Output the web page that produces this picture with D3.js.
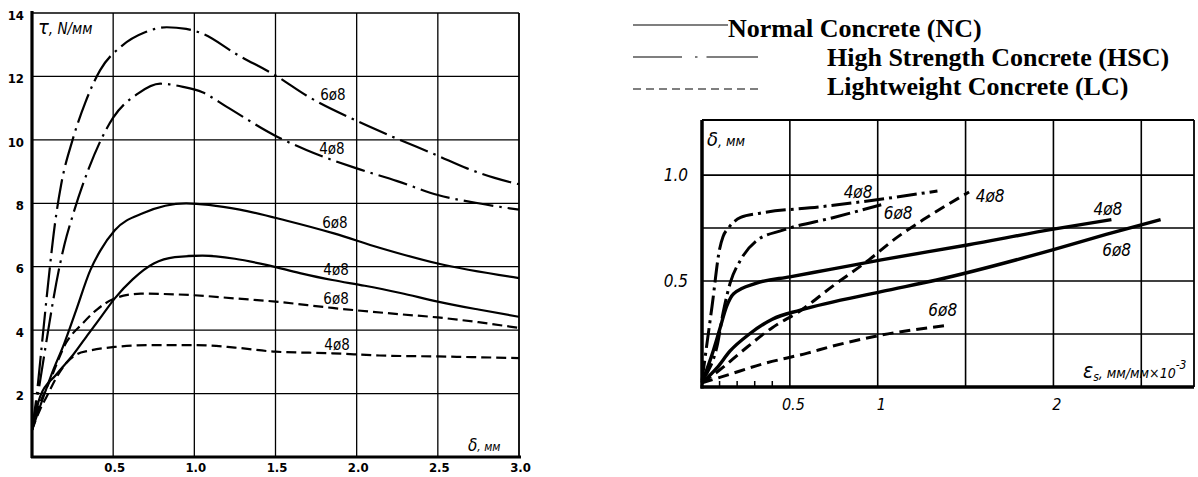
<!DOCTYPE html>
<html><head><meta charset="utf-8">
<script src="https://cdn.jsdelivr.net/npm/d3@7"></script>
<style>body{margin:0;background:#fff} svg{display:block}</style>
</head><body>
<svg id="c" width="1198" height="477"></svg>
<script>
// ---------- DATA ----------
// Left chart: slip delta (mm) vs bond stress tau (N/mm)
const leftXTicks = [0.5, 1.0, 1.5, 2.0, 2.5, 3.0];
const leftYTicks = [2, 4, 6, 8, 10, 12, 14];
const leftHSC6 = [[0,0.85],[0.03,2.0],[0.06,3.5],[0.1,5.5],[0.14,7.3],[0.18,8.6],[0.25,10.0],[0.33,11.2],[0.42,12.2],[0.55,12.95],[0.7,13.4],[0.83,13.55],[0.95,13.5],[1.05,13.35],[1.26,12.7],[1.51,12.0],[1.69,11.4],[2.0,10.6],[2.22,10.1],[2.5,9.5],[2.68,9.1],[2.85,8.8],[3.0,8.6]];
const leftHSC4 = [[0,0.85],[0.05,2.4],[0.1,4.0],[0.15,5.5],[0.2,6.7],[0.25,7.6],[0.35,9.1],[0.5,10.7],[0.65,11.45],[0.79,11.77],[0.93,11.67],[1.05,11.5],[1.2,11.04],[1.51,10.1],[1.69,9.68],[2.0,9.1],[2.25,8.7],[2.5,8.26],[2.75,8.0],[3.0,7.8]];
const leftNC6 = [[0,0.85],[0.05,1.6],[0.12,2.6],[0.2,3.6],[0.27,4.6],[0.36,5.9],[0.42,6.5],[0.51,7.15],[0.69,7.7],[0.95,8.0],[1.28,7.8],[1.57,7.45],[1.86,7.05],[2.14,6.6],[2.5,6.1],[3.0,5.64]];
const leftNC4 = [[0,0.85],[0.05,1.9],[0.15,2.6],[0.25,3.2],[0.35,3.9],[0.43,4.45],[0.51,5.0],[0.62,5.6],[0.75,6.1],[0.88,6.3],[1.05,6.35],[1.25,6.25],[1.45,6.05],[1.65,5.8],[1.85,5.58],[2.05,5.4],[2.27,5.17],[2.5,4.9],[2.75,4.65],[3.0,4.42]];
const leftLC6 = [[0,0.85],[0.05,1.7],[0.11,2.4],[0.21,3.6],[0.31,4.2],[0.4,4.65],[0.51,5.0],[0.6,5.12],[0.67,5.15],[1.0,5.1],[1.25,5.0],[1.5,4.9],[1.85,4.7],[2.27,4.5],[2.5,4.4],[2.75,4.25],[3.0,4.07]];
const leftLC4 = [[0,0.85],[0.05,1.5],[0.09,1.9],[0.15,2.5],[0.21,2.96],[0.28,3.25],[0.35,3.35],[0.51,3.47],[0.73,3.53],[1.0,3.53],[1.25,3.45],[1.5,3.32],[1.85,3.27],[2.14,3.2],[2.5,3.17],[3.0,3.12]];
const leftLabels = [["6ø8",1.854,11.42],["4ø8",1.848,9.71],["6ø8",1.866,7.38],["4ø8",1.873,5.90],["6ø8",1.873,4.98],["4ø8",1.879,3.53]];

// Right chart: steel strain (mm/mm x10^-3) vs slip delta (mm)
const rightXGrid = [0.5, 1, 1.5, 2, 2.5];
const rightXTicks = [0.5, 1, 2];
const rightMinor = [0.1, 0.2, 0.3, 0.4];
const rightYGrid = [0.25, 0.5, 0.75, 1.0];
const rightYTicks = [0.5, 1.0];
const rightHSC4 = [[0,0.03],[0.034,0.24],[0.057,0.38],[0.1,0.65],[0.12,0.71],[0.15,0.75],[0.22,0.8],[0.33,0.82],[0.67,0.85],[1.05,0.89],[1.34,0.925]];
const rightHSC6 = [[0,0.03],[0.05,0.1],[0.085,0.19],[0.12,0.35],[0.16,0.49],[0.22,0.6],[0.31,0.69],[0.46,0.74],[0.75,0.8],[1.02,0.86]];
const rightNC4 = [[0,0.02],[0.06,0.16],[0.1,0.27],[0.14,0.38],[0.18,0.44],[0.31,0.49],[0.5,0.52],[0.73,0.555],[1.02,0.6],[1.51,0.67],[2.0,0.745],[2.33,0.79]];
const rightNC6 = [[0,0.02],[0.085,0.09],[0.16,0.17],[0.27,0.25],[0.4,0.32],[0.56,0.363],[1.02,0.45],[1.335,0.505],[1.99,0.646],[2.3,0.72],[2.61,0.79]];
const rightLC4 = [[0,0.02],[0.1,0.08],[0.23,0.17],[0.4,0.28],[0.56,0.36],[0.75,0.48],[0.95,0.6],[1.1,0.7],[1.26,0.79],[1.52,0.92]];
const rightLC6 = [[0,0.02],[0.12,0.05],[0.35,0.11],[0.6,0.16],[0.73,0.19],[1.02,0.245],[1.39,0.29]];
const rightLabels = [["4ø8",0.888,0.92],["6ø8",1.116,0.82],["4ø8",1.64,0.90],["4ø8",2.31,0.84],["6ø8",2.36,0.646],["6ø8",1.37,0.363]];

const legendNames = ["Normal Concrete (NC)", "High Strength Concrete (HSC)", "Lightweight Concrete (LC)"];

// ---------- DRAW ----------
const svg = d3.select("#c");
const hand = "'DejaVu Sans Condensed','Liberation Sans Narrow',sans-serif";

// ---- Left chart ----
const xL = d3.scaleLinear().domain([0,3]).range([32,519]);
const yL = d3.scaleLinear().domain([0,14]).range([457,13]);
const gL = svg.append("g");

gL.append("g").selectAll("line").data(leftXTicks).join("line")
  .attr("x1", d=>xL(d)).attr("x2", d=>xL(d)).attr("y1", yL(0)).attr("y2", yL(14))
  .attr("stroke","#000").attr("stroke-width", d=> d===3 ? 1.8 : 1.3);
gL.append("g").selectAll("line").data(leftYTicks).join("line")
  .attr("x1", xL(0)).attr("x2", xL(3)).attr("y1", d=>yL(d)).attr("y2", d=>yL(d))
  .attr("stroke","#000").attr("stroke-width", 1.3);
gL.append("line").attr("x1",xL(0)).attr("x2",xL(0)).attr("y1",yL(0)+1).attr("y2",yL(14)-2).attr("stroke","#000").attr("stroke-width",3.2);
gL.append("line").attr("x1",xL(0)-1).attr("x2",xL(3)+2).attr("y1",yL(0)).attr("y2",yL(0)).attr("stroke","#000").attr("stroke-width",3.2);

const axLy = d3.axisLeft(yL).tickValues(leftYTicks).tickSize(0).tickPadding(8).tickFormat(d3.format("d"));
gL.append("g").attr("transform",`translate(${xL(0)},2)`).call(axLy)
  .call(g=>g.select(".domain").remove())
  .selectAll("text").attr("font-family",hand).attr("font-weight","bold").attr("font-size",13).attr("fill","#000");
const axLx = d3.axisBottom(xL).tickValues(leftXTicks).tickSize(0).tickPadding(6).tickFormat(d3.format(".1f"));
gL.append("g").attr("transform",`translate(1,${yL(0)})`).call(axLx)
  .call(g=>g.select(".domain").remove())
  .selectAll("text").attr("font-family",hand).attr("font-weight","bold").attr("font-size",13).attr("fill","#000");

const lineL = d3.line().x(d=>xL(d[0])).y(d=>yL(d[1])).curve(d3.curveMonotoneX);
const leftSeries = [
  [leftHSC6,"HSC"],[leftHSC4,"HSC"],[leftNC6,"NC"],[leftNC4,"NC"],[leftLC6,"LC"],[leftLC4,"LC"]
];
const leftDash = {NC:null, HSC:"30,6,2.5,6", LC:"10,5"};
gL.append("g").selectAll("path").data(leftSeries).join("path")
  .attr("d", d=>lineL(d[0])).attr("fill","none").attr("stroke","#000")
  .attr("stroke-width", 2.2).attr("stroke-dasharray", d=>leftDash[d[1]]);

gL.append("g").selectAll("text").data(leftLabels).join("text")
  .attr("x", d=>xL(d[1])).attr("y", d=>yL(d[2])).attr("dy","0.35em")
  .attr("text-anchor","middle").attr("font-family",hand).attr("font-size",15).attr("fill","#000")
  .text(d=>d[0]);

const tL = gL.append("text").attr("x",38).attr("y",34).attr("font-family",hand).attr("font-style","italic").attr("fill","#000");
tL.append("tspan").attr("font-size",20).text("τ");
tL.append("tspan").attr("font-size",15).text(", N/мм");
const dL = gL.append("text").attr("x",468).attr("y",451).attr("font-family",hand).attr("font-style","italic").attr("fill","#000");
dL.append("tspan").attr("font-size",17).text("δ");
dL.append("tspan").attr("font-size",12).text(", мм");

// ---- Right chart ----
const xR = d3.scaleLinear().domain([0,2.8]).range([702,1194]);
const yR = d3.scaleLinear().domain([0,1.26]).range([387,120]);
const gR = svg.append("g");
gR.append("g").selectAll("line").data(rightXGrid).join("line")
  .attr("x1", d=>xR(d)).attr("x2", d=>xR(d)).attr("y1", yR(0)).attr("y2", yR(1.26))
  .attr("stroke","#000").attr("stroke-width",1.6);
gR.append("g").selectAll("line").data(rightYGrid).join("line")
  .attr("x1", xR(0)).attr("x2", xR(2.8)).attr("y1", d=>yR(d)).attr("y2", d=>yR(d))
  .attr("stroke","#000").attr("stroke-width",1.6);
gR.append("line").attr("x1",xR(0)).attr("x2",xR(2.8)).attr("y1",yR(1.26)).attr("y2",yR(1.26)).attr("stroke","#000").attr("stroke-width",1.8);
gR.append("line").attr("x1",xR(2.8)).attr("x2",xR(2.8)).attr("y1",yR(0)).attr("y2",yR(1.26)).attr("stroke","#000").attr("stroke-width",1.8);
gR.append("line").attr("x1",xR(0)).attr("x2",xR(0)).attr("y1",yR(0)+1.5).attr("y2",yR(1.26)).attr("stroke","#000").attr("stroke-width",3.5);
gR.append("line").attr("x1",xR(0)-1.5).attr("x2",xR(2.8)).attr("y1",yR(0)).attr("y2",yR(0)).attr("stroke","#000").attr("stroke-width",3.5);
gR.append("g").selectAll("line").data(rightMinor).join("line")
  .attr("x1", d=>xR(d)).attr("x2", d=>xR(d)).attr("y1", yR(0)).attr("y2", yR(0)-6)
  .attr("stroke","#000").attr("stroke-width",1.5);

const axRy = d3.axisLeft(yR).tickValues(rightYTicks).tickSize(0).tickPadding(14).tickFormat(d3.format(".1f"));
gR.append("g").attr("transform",`translate(${xR(0)},0)`).call(axRy)
  .call(g=>g.select(".domain").remove())
  .selectAll("text").attr("font-family",hand).attr("font-style","italic").attr("font-size",17).attr("fill","#000");
const axRx = d3.axisBottom(xR).tickValues(rightXTicks).tickSize(0).tickPadding(12).tickFormat(d=> d===0.5 ? "0.5" : d3.format("d")(d));
gR.append("g").attr("transform",`translate(3,${yR(0)})`).call(axRx)
  .call(g=>g.select(".domain").remove())
  .selectAll("text").attr("font-family",hand).attr("font-style","italic").attr("font-size",16).attr("fill","#000");

const lineR = d3.line().x(d=>xR(d[0])).y(d=>yR(d[1])).curve(d3.curveMonotoneX);
const rightSeries = [
  [rightHSC4,"HSC"],[rightHSC6,"HSC"],[rightNC4,"NC"],[rightNC6,"NC"],[rightLC4,"LC"],[rightLC6,"LC"]
];
const rightDash = {NC:null, HSC:"20,5,3,5", LC:"11,6"};
gR.append("g").selectAll("path").data(rightSeries).join("path")
  .attr("d", d=>lineR(d[0])).attr("fill","none").attr("stroke","#000")
  .attr("stroke-width", d=> d[1]==="NC" ? 3.4 : 3).attr("stroke-dasharray", d=>rightDash[d[1]]);

gR.append("g").selectAll("text").data(rightLabels).join("text")
  .attr("x", d=>xR(d[1])).attr("y", d=>yR(d[2])).attr("dy","0.35em")
  .attr("text-anchor","middle").attr("font-family",hand).attr("font-style","italic").attr("font-size",17).attr("fill","#000")
  .text(d=>d[0]);

const tR = gR.append("text").attr("x",707).attr("y",146).attr("font-family",hand).attr("font-style","italic").attr("fill","#000");
tR.append("tspan").attr("font-size",20).text("δ");
tR.append("tspan").attr("font-size",14).text(", мм");
const eR = gR.append("text").attr("x",1083).attr("y",378).attr("font-family",hand).attr("font-style","italic").attr("fill","#000");
eR.append("tspan").attr("font-size",21).text("ε");
eR.append("tspan").attr("font-size",12).attr("dy",3).text("s");
eR.append("tspan").attr("font-size",14).attr("dy",-3).text(", мм/мм×10");
eR.append("tspan").attr("font-size",12).attr("dy",-9).text("-3");

// ---- Legend ----
const lg = svg.append("g").attr("font-family","'Liberation Serif','Times New Roman',serif").attr("font-weight","bold").attr("font-size",26);
lg.append("line").attr("x1",633).attr("x2",728).attr("y1",25).attr("y2",25).attr("stroke","#000").attr("stroke-width",1.2);
lg.append("text").attr("x",728).attr("y",37).text(legendNames[0]);
lg.append("line").attr("x1",633).attr("x2",758).attr("y1",57).attr("y2",57).attr("stroke","#000").attr("stroke-width",1.2).attr("stroke-dasharray","49,13,2.5,9,60");
lg.append("text").attr("x",827).attr("y",66).text(legendNames[1]);
lg.append("line").attr("x1",633).attr("x2",762).attr("y1",89).attr("y2",89).attr("stroke","#000").attr("stroke-width",1.2).attr("stroke-dasharray","8,5");
lg.append("text").attr("x",827).attr("y",95).text(legendNames[2]);
</script>
</body></html>
